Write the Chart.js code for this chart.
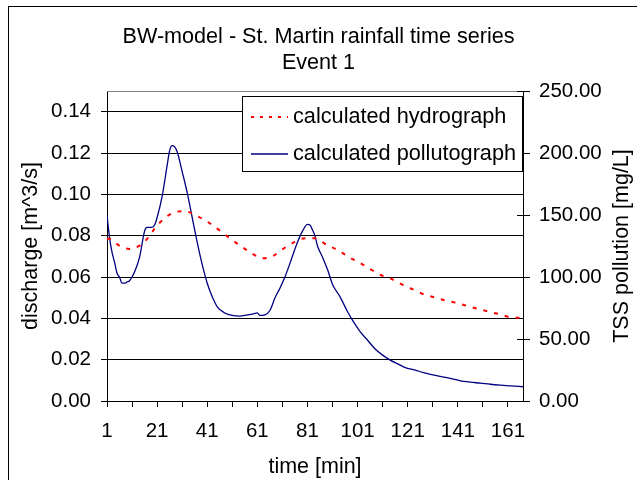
<!DOCTYPE html>
<html><head><meta charset="utf-8">
<script src="https://cdn.jsdelivr.net/npm/chart.js@4/dist/chart.umd.min.js"></script>
<style>html,body{margin:0;padding:0;background:#fff;overflow:hidden}</style>
</head><body>
<canvas id="c" width="637" height="480"></canvas>
<script>
// ---- data ----
const titleLines = ['BW-model - St. Martin rainfall time series', 'Event 1'];
const seriesNames = ['calculated hydrograph', 'calculated pollutograph'];
const xTitle = 'time [min]';
const leftTitle = 'discharge [m^3/s]';
const rightTitle = 'TSS pollution [mg/L]';

const xTickValues = [1, 11, 21, 31, 41, 51, 61, 71, 81, 91, 101, 111, 121, 131, 141, 151, 161];
const xLabelValues = [1, 21, 41, 61, 81, 101, 121, 141, 161];
const leftTickValues = [0, 0.02, 0.04, 0.06, 0.08, 0.10, 0.12, 0.14];
const rightTickValues = [0, 50, 100, 150, 200, 250];

// hydrograph: discharge [m^3/s]
const hydroTime   = [1, 2, 6, 10, 14, 18, 20, 24, 28, 32, 37, 41, 46, 50, 54, 59, 63, 67, 71, 76, 80, 84, 89, 93, 97, 102, 106, 110, 115, 119, 124, 127, 132, 136, 140, 145, 149, 153, 158, 162, 167];
const hydroValues = [0.0785, 0.0785, 0.0751, 0.0736, 0.0752, 0.0798, 0.0835, 0.0884, 0.0914, 0.0918, 0.0895, 0.0868, 0.0825, 0.0788, 0.0753, 0.0713, 0.0691, 0.0700, 0.0734, 0.0770, 0.0788, 0.0787, 0.0753, 0.0731, 0.0700, 0.0668, 0.0639, 0.0611, 0.0588, 0.0562, 0.0535, 0.0518, 0.0500, 0.0486, 0.0476, 0.0459, 0.0446, 0.0433, 0.0419, 0.0405, 0.0402];

// pollutograph: TSS [mg/L]
const pollTime   = [1, 2, 3, 4, 5, 6, 7, 8, 9, 10, 12, 14, 16, 17, 19, 20, 21, 23, 25, 26, 27, 28, 29, 31, 33, 35, 37, 39, 41, 43, 45, 48, 51, 54, 57, 59, 61, 62, 64, 66, 68, 70, 72, 74, 77, 79, 81, 82, 83, 84, 85, 87, 89, 91, 94, 97, 99, 102, 105, 108, 111, 114, 117, 120, 124, 127, 131, 135, 138, 142, 146, 150, 154, 158, 162, 167];
const pollValues = [150, 132, 120, 112, 103, 100, 95, 95, 96, 97, 104, 116, 137, 140, 140, 142, 148, 165, 190, 202, 206, 205, 201, 185, 168, 148, 128, 110, 95, 84, 76, 71, 69, 68.5, 69.4, 70, 71, 69, 69.5, 73, 83, 91, 100, 111, 128, 137, 142.5, 142, 138, 133, 125, 116, 106, 94, 84, 72, 65, 56, 49, 42, 37, 33, 30, 27, 25, 23, 21, 19.5, 18.3, 16.3, 15.2, 14.4, 13.5, 12.8, 12.2, 11.5];

// ---- chart ----
const F = "'Liberation Sans', Arial, sans-serif";

const decor = {
  id: 'decor',
  beforeDraw(chart) {
    const ctx = chart.ctx;
    ctx.save();
    ctx.fillStyle = '#fff';
    ctx.fillRect(0, 0, chart.width, chart.height);
    ctx.strokeStyle = '#000';
    ctx.lineWidth = 1;
    ctx.strokeRect(8.5, 6.5, 700, 600);
    ctx.restore();
  },
  afterDraw(chart) {
    const ctx = chart.ctx;
    const a = chart.chartArea;
    const y2 = chart.scales.y2;
    ctx.save();
    // top frame line
    ctx.strokeStyle = '#808080';
    ctx.lineWidth = 1;
    ctx.beginPath();
    ctx.moveTo(Math.round(a.left), Math.round(a.top) + 0.5);
    ctx.lineTo(Math.round(a.right), Math.round(a.top) + 0.5);
    ctx.stroke();
    // inward part of right axis ticks
    ctx.strokeStyle = '#000';
    rightTickValues.forEach(v => {
      const py = Math.round(y2.getPixelForValue(v)) + 0.5;
      ctx.beginPath();
      ctx.moveTo(Math.round(a.right) - 6, py);
      ctx.lineTo(Math.round(a.right), py);
      ctx.stroke();
    });
    // legend
    const lx = 242.5, ly = 96.5, lw = 280, lh = 75;
    ctx.fillStyle = '#fff';
    ctx.fillRect(lx, ly, lw, lh);
    ctx.strokeStyle = '#000';
    ctx.lineWidth = 1;
    ctx.strokeRect(lx, ly, lw, lh);
    const rows = [117, 154];
    chart.data.datasets.forEach((ds, i) => {
      ctx.save();
      ctx.strokeStyle = ds.borderColor;
      ctx.lineWidth = ds.borderWidth;
      ctx.setLineDash(i === 0 ? [3, 6] : []);
      ctx.beginPath();
      ctx.moveTo(251, rows[i]);
      ctx.lineTo(288, rows[i]);
      ctx.stroke();
      ctx.restore();
      ctx.fillStyle = '#000';
      ctx.font = '21.7px ' + F;
      ctx.textAlign = 'left';
      ctx.textBaseline = 'middle';
      ctx.fillText(ds.label, 293, rows[i]);
    });
    // right axis title (reads bottom to top)
    ctx.translate(622, (a.top + a.bottom) / 2);
    ctx.rotate(-Math.PI / 2);
    ctx.fillStyle = '#000';
    ctx.font = '21.5px ' + F;
    ctx.textAlign = 'center';
    ctx.textBaseline = 'middle';
    ctx.fillText(rightTitle, 0, 0);
    ctx.restore();
  }
};

new Chart(document.getElementById('c'), {
  type: 'line',
  data: {
    datasets: [
      {
        label: seriesNames[0],
        data: hydroTime.map((t, i) => ({x: t, y: hydroValues[i]})),
        yAxisID: 'y',
        borderColor: '#ff0000',
        borderWidth: 2,
        borderDash: [4, 7],
        pointRadius: 0,
        fill: false,
        cubicInterpolationMode: 'monotone'
      },
      {
        label: seriesNames[1],
        data: pollTime.map((t, i) => ({x: t, y: pollValues[i]})),
        yAxisID: 'y2',
        borderColor: '#000080',
        borderWidth: 1.3,
        pointRadius: 0,
        fill: false,
        cubicInterpolationMode: 'monotone'
      }
    ]
  },
  options: {
    responsive: false,
    devicePixelRatio: 1,
    animation: false,
    events: [],
    layout: {padding: 0},
    plugins: {
      legend: {display: false},
      tooltip: {enabled: false},
      title: {
        display: true,
        text: titleLines,
        color: '#000',
        font: {size: 21.6, family: F, weight: 'normal', lineHeight: 1.186},
        padding: {top: 24.2, bottom: 15.6}
      }
    },
    scales: {
      x: {
        type: 'linear',
        min: 1,
        max: 167,
        afterBuildTicks: s => { s.ticks = xTickValues.map(v => ({value: v})); },
        afterFit: s => { s.height = 79; },
        ticks: {
          autoSkip: false, maxRotation: 0, padding: 12, color: '#000',
          font: {size: 20.5, family: F},
          callback: v => xLabelValues.includes(v) ? String(v) : ''
        },
        grid: {drawOnChartArea: false, drawTicks: true, tickLength: 6, color: '#000', lineWidth: 1},
        border: {display: true, color: '#000', width: 1},
        title: {display: true, text: xTitle, color: '#000', font: {size: 21.5, family: F}, padding: {top: 0, bottom: 0}}
      },
      y: {
        type: 'linear',
        position: 'left',
        min: 0,
        max: 0.15,
        afterBuildTicks: s => { s.ticks = leftTickValues.map(v => ({value: v})); },
        afterFit: s => { s.width = 107; },
        ticks: {padding: 10, color: '#000', font: {size: 20.5, family: F}, callback: v => Number(v).toFixed(2)},
        grid: {drawOnChartArea: true, drawTicks: true, tickLength: 6, color: '#000', lineWidth: 1},
        border: {display: true, color: '#000', width: 1},
        title: {display: true, text: leftTitle, color: '#000', font: {size: 21.5, family: F}, padding: {top: 18.1, bottom: 0}}
      },
      y2: {
        type: 'linear',
        position: 'right',
        min: 0,
        max: 250,
        afterBuildTicks: s => { s.ticks = rightTickValues.map(v => ({value: v})); },
        afterFit: s => { s.width = 114; },
        ticks: {padding: 9, color: '#000', font: {size: 20.5, family: F}, callback: v => Number(v).toFixed(2)},
        grid: {drawOnChartArea: false, drawTicks: true, tickLength: 7, color: '#000', lineWidth: 1},
        border: {display: true, color: '#000', width: 1}
      }
    }
  },
  plugins: [decor]
});
</script>
</body></html>
